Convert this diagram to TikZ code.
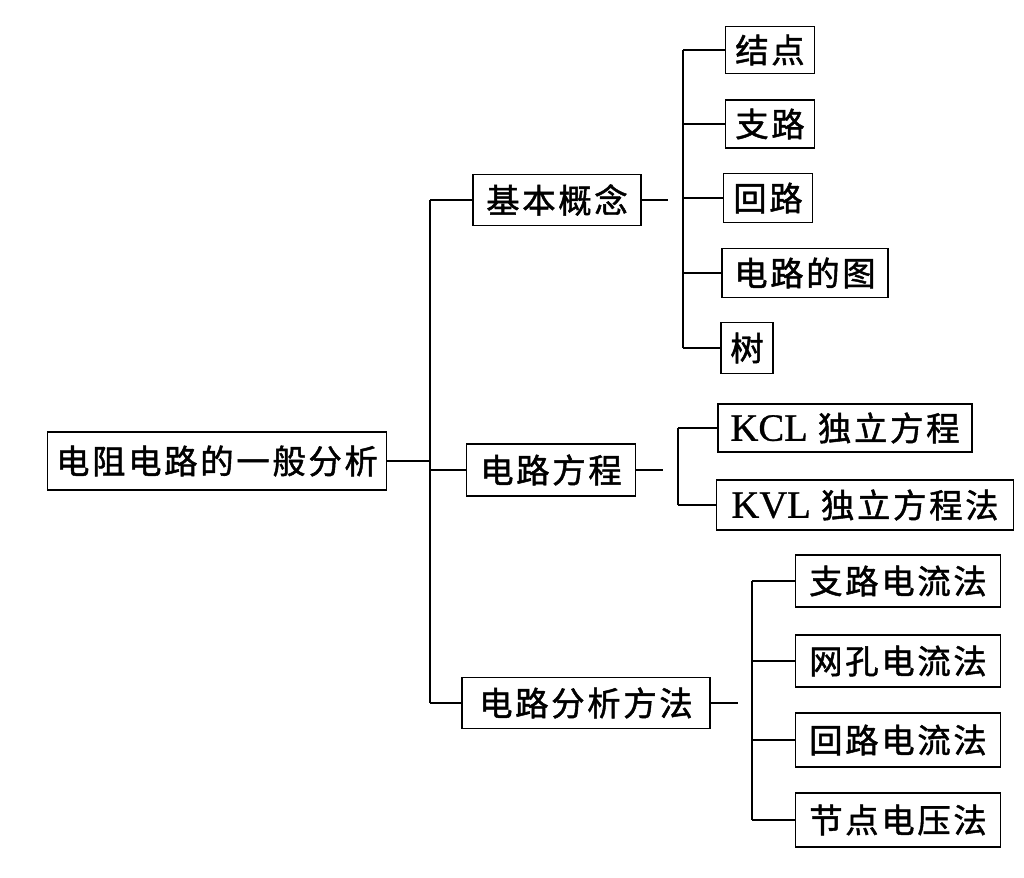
\documentclass[tikz,border=0pt]{standalone}
\usepackage{fontspec}
\setmainfont{Liberation Serif}[FakeBold=0.8]
\newfontfamily\cjk[LetterSpace=8, FakeBold=1.4]{Noto Sans CJK SC}
\tikzset{
    box/.style={draw, line width=0.7pt, inner sep=0pt, font=\cjk\fontsize{19}{22}\selectfont},
    bw/.style={minimum width=#1*0.02cm},
    bh/.style={minimum height=#1*0.02cm},
    wire/.style={draw, line width=0.75pt}
}
\begin{document}
\begin{tikzpicture}[x=0.02cm, y=-0.02cm]
        \useasboundingbox (0,0) rectangle (1024,878);

        \node[box, bw=339, bh=58] (root) at (217,461) {电阻电路的一般分析};

        \node[box, bw=168, bh=51] (jbgn) at (557,200) {基本概念};
        \node[box, bw=169, bh=52] (dlfc) at (551,470) {电路方程};
        \node[box, bw=248, bh=51] (fxff) at (586,703) {电路分析方法};

        \node[box, bw=89, bh=47] (jied) at (770,50) {结点};
        \node[box, bw=89, bh=48] (zhil) at (770,124) {支路};
        \node[box, bw=89, bh=49] (huil) at (768,198) {回路};
        \node[box, bw=166, bh=49] (tu) at (805,273) {电路的图};
        \node[box, bw=52, bh=51] (shu) at (747,348) {树};

        \node[box, bw=254, bh=48] (kcl) at (845,428) {{\rmfamily\fontsize{22}{24}\selectfont KCL}\ 独立方程};
        \node[box, bw=297, bh=50] (kvl) at (865,505) {{\rmfamily\fontsize{22}{24}\selectfont KVL}\ 独立方程法};

        \node[box, bw=205, bh=52] (m1) at (898,581) {支路电流法};
        \node[box, bw=205, bh=52] (m2) at (898,661) {网孔电流法};
        \node[box, bw=205, bh=54] (m3) at (898,740) {回路电流法};
        \node[box, bw=205, bh=54] (m4) at (898,820) {节点电压法};

        % trunk
        \coordinate (t1) at (430,200);
        \coordinate (t2) at (430,703);
        \path[wire] (t1) -- (t2);
        \path[wire] (root.east) -- (root.east -| t1);
        \path[wire] (t1) -- (jbgn.west);
        \path[wire] (dlfc.west -| t1) -- (dlfc.west);
        \path[wire] (t2) -- (fxff.west);

        % buses
        \coordinate (e1) at (668,200);
        \coordinate (b1t) at (683,50);
        \coordinate (b1b) at (683,348);
        \path[wire] (jbgn.east) -- (e1);
        \path[wire] (b1t) -- (b1b);
        \foreach \n in {jied,zhil,huil,tu,shu}
            \path[wire] (\n.west -| b1t) -- (\n.west);

        \coordinate (e2) at (663,470);
        \coordinate (b2t) at (678,428);
        \coordinate (b2b) at (678,505);
        \path[wire] (dlfc.east) -- (e2);
        \path[wire] (b2t) -- (b2b);
        \foreach \n in {kcl,kvl}
            \path[wire] (\n.west -| b2t) -- (\n.west);

        \coordinate (e3) at (738,703);
        \coordinate (b3t) at (752,581);
        \coordinate (b3b) at (752,820);
        \path[wire] (fxff.east) -- (e3);
        \path[wire] (b3t) -- (b3b);
        \foreach \n in {m1,m2,m3,m4}
            \path[wire] (\n.west -| b3t) -- (\n.west);
    \end{tikzpicture}
\end{document}
